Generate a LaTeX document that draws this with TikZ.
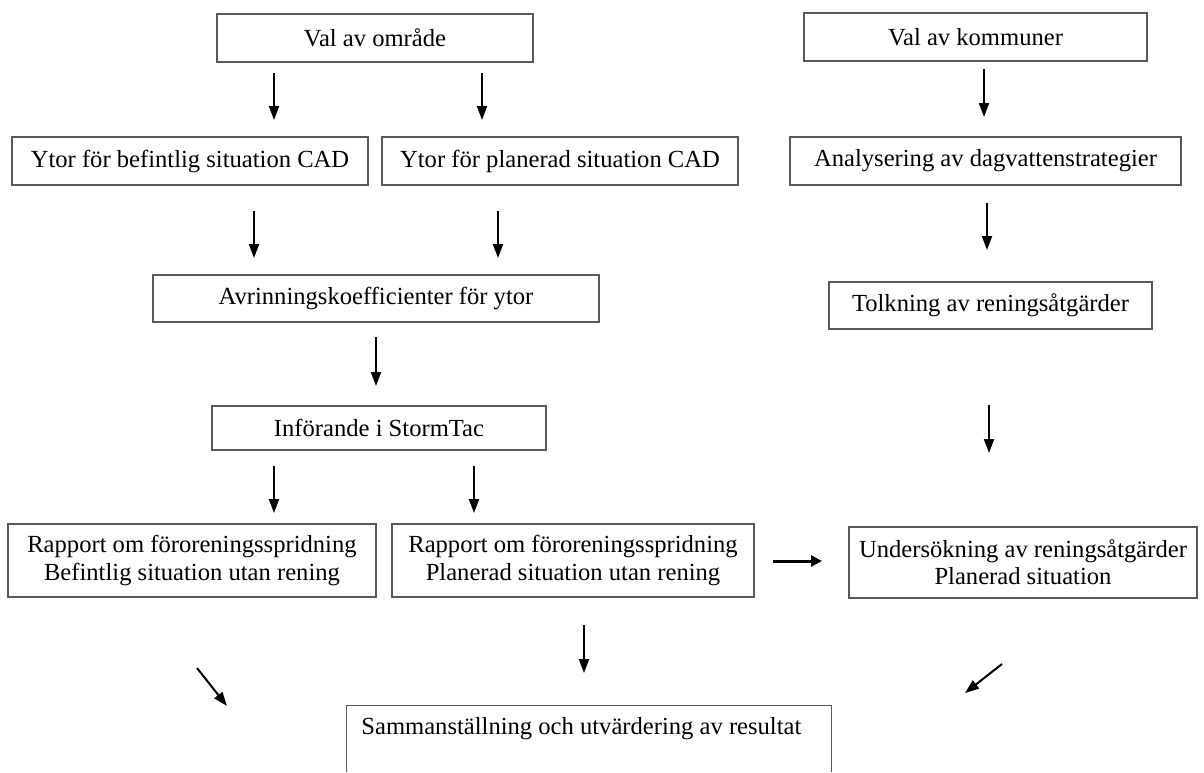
\documentclass[tikz,border=0pt,12pt]{standalone}
\usepackage{fontspec}
\setmainfont{Liberation Serif}
\usetikzlibrary{arrows.meta}

\begin{document}
\begin{tikzpicture}[x=0.5pt,y=-0.5pt,
    box/.style={draw=black!65,line width=0.65pt,inner sep=0pt,align=center,
      font=\fontsize{12.3}{13.6}\selectfont},
    pil/.style={-{Triangle[width=5pt,length=7pt]},line width=1pt},
    tjockpil/.style={-{Triangle[width=5.5pt,length=5.5pt]},line width=1.5pt}]
    \useasboundingbox (0,0) rectangle (1204,772);
    % vänstra och mittre kolumnen
    \node (omr) [box,minimum width=158pt,minimum height=24pt] at (375,38) {Val av område};
    \node (befint) [box,minimum width=178pt,minimum height=24pt] at (190,161) {Ytor för befintlig situation CAD};
    \node (planer) [box,minimum width=178pt,minimum height=24pt] at (560,161) {Ytor för planerad situation CAD};
    \node (avrinn) [box,minimum width=223pt,minimum height=23.5pt] at (376,298.5) {Avrinningskoefficienter för ytor};
    \node (infor) [box,minimum width=167pt,minimum height=22pt] at (379,428) {Införande i StormTac};
    \node (rapp1) [box,minimum width=184pt,minimum height=36.5pt] at (192,560.5) {Rapport om föroreningsspridning\\Befintlig situation utan rening};
    \node (rapp2) [box,minimum width=181pt,minimum height=36.5pt] at (573,560.5) {Rapport om föroreningsspridning\\Planerad situation utan rening};
    % högra kolumnen
    \node (komm) [box,minimum width=171.5pt,minimum height=24pt] at (975.5,37) {Val av kommuner};
    \node (analys) [box,minimum width=195.5pt,minimum height=24pt] at (985.5,161) {Analysering av dagvattenstrategier};
    \node (tolkn) [box,minimum width=161.5pt,minimum height=23.5pt] at (990.5,305.5) {Tolkning av reningsåtgärder};
    \node (under) [box,minimum width=174pt,minimum height=35.5pt] at (1023,562.5) {Undersökning av reningsåtgärder\\Planerad situation};
    % sammanställning, öppen nedtill
    \node (samm) [minimum width=242pt,minimum height=33pt,inner sep=0pt] at (589,739) {};
    \draw [black!65,line width=0.65pt] (samm.south west) |- (samm.north east) -- (samm.south east);
    \node (sammtxt) [anchor=west,inner sep=0pt,font=\fontsize{12.3}{13.6}\selectfont] at (361,729) {Sammanställning och utvärdering av resultat};
    % pilar
    \coordinate (p1a) at (274,73);   \coordinate (p1b) at (274,120);
    \coordinate (p2a) at (482,73);   \coordinate (p2b) at (482,120);
    \coordinate (p3a) at (984,69);   \coordinate (p3b) at (984,117);
    \coordinate (p4a) at (254,211);  \coordinate (p4b) at (254,258);
    \coordinate (p5a) at (498,211);  \coordinate (p5b) at (498,258);
    \coordinate (p6a) at (987,203);  \coordinate (p6b) at (987,250);
    \coordinate (p7a) at (376,337);  \coordinate (p7b) at (376,386);
    \coordinate (p8a) at (989,405);  \coordinate (p8b) at (989,453);
    \coordinate (p9a) at (274,466);  \coordinate (p9b) at (274,513);
    \coordinate (p10a) at (474,466); \coordinate (p10b) at (474,513);
    \coordinate (p11a) at (584,625); \coordinate (p11b) at (584,673);
    \coordinate (p12a) at (197,668); \coordinate (p12b) at (227,706);
    \coordinate (p13a) at (1002,664); \coordinate (p13b) at (965,693);
    \coordinate (p14a) at (773,561); \coordinate (p14b) at (822,561);
    \foreach \i in {1,...,13}
      \draw [pil] (p\i a) -- (p\i b);
    \draw [tjockpil] (p14a) -- (p14b);
  \end{tikzpicture}
\end{document}
